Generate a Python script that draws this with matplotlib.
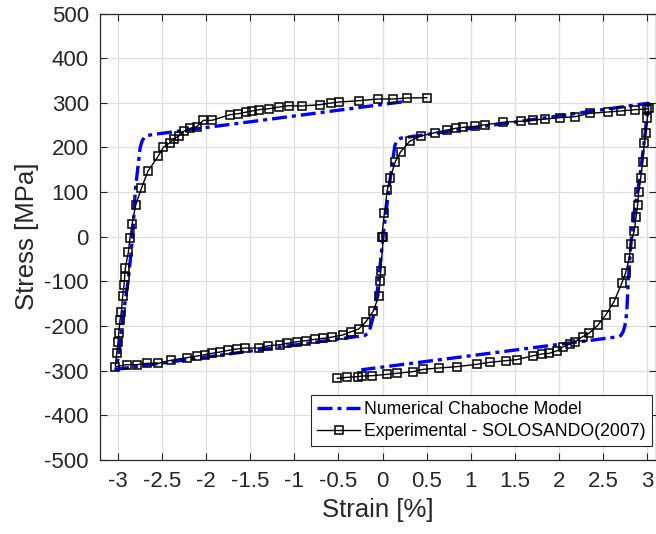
import numpy as np
import matplotlib.pyplot as plt

plt.rcParams['font.family'] = ['Liberation Sans', 'DejaVu Sans']
plt.rcParams['axes.unicode_minus'] = False

# ------------------------------- Data --------------------------------

# Numerical Chaboche model (one continuous path)
num_strain = [0.22, -2.60, -2.68, -2.72, -2.745, -2.80, -2.83, -2.88, -2.94, -2.99, -3.02,
              -0.20, -0.17, -0.14, -0.085, -0.036, 0.01, 0.085, 0.14, 0.17, 0.21,
              3.01, 2.975, 2.916, 2.848, 2.811, 2.784, 2.766, 2.745, 2.727, 2.70, 2.67,
              -0.24]
num_stress = [302, 229, 226, 216, 200, 105, 0, -97, -179, -268, -297,
              -221, -217, -205, -164, -82, 8, 127, 205, 217, 221,
              299, 232, 134, 52, -22, -97, -171, -200, -212, -221, -224,
              -298]

# Experimental - SOLOSANDO (2007)
exp_strain = [0.500, 0.281, 0.115, -0.051, -0.270, -0.489, -0.587, -0.708, -0.915, -1.062,
              -1.169, -1.285, -1.399, -1.478, -1.549, -1.636, -1.727, -1.931, -2.029, -2.104,
              -2.180, -2.248, -2.308, -2.361, -2.407, -2.482, -2.542, -2.656, -2.731, -2.795,
              -2.837, -2.860, -2.879, -2.913, -2.920, -2.928, -2.943, -2.958, -2.973, -2.988,
              -2.995, -3.010, -3.026,
              -2.897, -2.784, -2.671, -2.539, -2.399, -2.217, -2.104, -2.010, -1.934, -1.840,
              -1.746, -1.651, -1.554, -1.395, -1.293, -1.161, -1.078, -0.965, -0.870, -0.764,
              -0.670, -0.569, -0.451, -0.353, -0.270, -0.187, -0.104, -0.043, -0.028, -0.021,
              0.009, -0.009,
              0.021, 0.054, 0.085, 0.145, 0.206, 0.311, 0.433, 0.595, 0.734, 0.832,
              0.915, 1.048, 1.164, 1.368, 1.565, 1.708, 1.844, 2.010, 2.180, 2.350,
              2.557, 2.698, 2.860, 2.992, 3.015,
              2.999, 2.984, 2.965, 2.947, 2.924, 2.901, 2.890, 2.871, 2.852, 2.811,
              2.795, 2.754, 2.709, 2.622, 2.528, 2.441, 2.339, 2.267, 2.180, 2.123,
              2.048, 1.980, 1.889, 1.803, 1.708, 1.520, 1.395, 1.217, 1.067, 0.840,
              0.636, 0.462, 0.342, 0.161, 0.048, -0.122, -0.236, -0.281, -0.399, -0.512]
exp_stress = [311.4, 310.8, 308.5, 308.5, 304.7, 301.8, 299.5, 295.8, 292.8, 293.5,
              290.6, 286.8, 284.6, 281.6, 278.7, 275.6, 273.4, 260.7, 260.7, 246.5,
              242.8, 236.8, 225.6, 219.6, 210.7, 200.3, 180.1, 147.3, 108.5, 71.8,
              27.8, -2.1, -34.8, -70.7, -89.4, -108.8, -132.7, -167.8, -186.5, -216.3,
              -235.7, -259.6, -291.0,
              -286.5, -286.5, -283.5, -283.5, -276.8, -270.8, -267.1, -264.1, -261.1, -258.1,
              -254.4, -251.4, -249.2, -249.2, -244.0, -241.8, -238.8, -235.0, -232.8, -229.7,
              -227.5, -224.5, -220.0, -212.6, -206.6, -190.2, -166.3, -132.7, -99.1, -76.0,
              -1.3, 0.1,
              52.5, 104.7, 130.9, 168.1, 190.5, 214.4, 225.6, 233.1, 239.1, 242.9,
              245.1, 247.3, 251.0, 256.3, 258.6, 261.5, 263.7, 266.7, 268.9, 276.4,
              279.4, 281.6, 284.6, 286.1, 287.6,
              265.3, 233.1, 209.3, 168.1, 130.9, 99.5, 71.1, 43.6, 13.5, -16.2,
              -48.3, -80.5, -104.3, -145.4, -175.3, -197.6, -216.3, -223.8, -235.0, -240.2,
              -246.2, -255.2, -261.1, -262.6, -266.4, -275.3, -277.6, -281.2, -285.7, -291.0,
              -294.0, -296.9, -302.2, -305.9, -308.2, -311.2, -311.9, -313.4, -314.8, -317.1]

x_ticks = np.arange(-3, 3.01, 0.5)
x_labels = ['-3', '-2.5', '-2', '-1.5', '-1', '-0.5', '0', '0.5', '1', '1.5', '2', '2.5', '3']
y_ticks = np.arange(-500, 501, 100)

# ------------------------------- Plot --------------------------------

fig = plt.figure(figsize=(6.56, 5.34), dpi=100)
ax = fig.add_axes([100/656, 74/534, 556.2/656, 446.5/534])

dark = '#262626'

ax.plot(num_strain, num_stress, color='blue', linewidth=2.4,
        dashes=(4.5, 1.5, 1.2, 1.5), label='Numerical Chaboche Model', zorder=3)
ax.plot(exp_strain, exp_stress, '-s', color='black', linewidth=1.0,
        markersize=5.5, markerfacecolor='none', markeredgewidth=1.1,
        label='Experimental - SOLOSANDO(2007)', zorder=4)

ax.set_xlim([-3.2, 3.1])
ax.set_ylim([-500, 500])
ax.set_xticks(x_ticks)
ax.set_xticklabels(x_labels)
ax.set_yticks(y_ticks)

ax.grid(True, color='#dedede', linewidth=0.9)
ax.set_axisbelow(True)
ax.tick_params(direction='in', length=5, width=0.8, top=True, right=True,
               labelsize=16, colors=dark, pad=8)
for s in ax.spines.values():
    s.set_color(dark)
    s.set_linewidth(0.9)

ax.set_xlabel('Strain [%]', fontsize=18.5, color=dark, labelpad=4)
ax.set_ylabel('Stress [MPa]', fontsize=18.5, color=dark, labelpad=4)

leg = ax.legend(loc='lower right', bbox_to_anchor=(652/656, 88/534),
                bbox_transform=fig.transFigure, borderaxespad=0,
                fontsize=12.7, fancybox=False, framealpha=1, edgecolor=dark,
                handlelength=2.4, handletextpad=0.25, labelspacing=0.25,
                borderpad=0.35)
leg.get_frame().set_linewidth(0.8)

plt.savefig('out.png', dpi=100)
